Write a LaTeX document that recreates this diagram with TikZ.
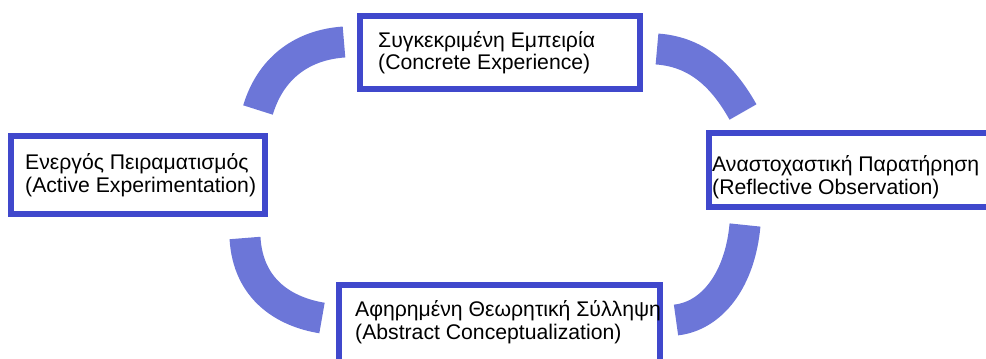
\documentclass[tikz,border=0pt]{standalone}
\usepackage{fontspec}
\setmainfont{Liberation Sans}
\definecolor{boxblue}{RGB}{64,72,204}
\definecolor{bandblue}{RGB}{108,118,216}
\begin{document}
\begin{tikzpicture}[x=1pt,y=-1pt,
  box/.style={draw=boxblue,line width=5.5pt,fill=white,rectangle,inner sep=0pt},
  lbl/.style={inner sep=0pt,anchor=base west,font=\fontsize{21.2}{23}\selectfont},
  band/.style={draw=bandblue,line width=31pt,line cap=butt}]
\useasboundingbox (0,0) rectangle (986,359);
\clip (0,0) rectangle (986,359);
% boxes
\node[box,minimum width=280pt,minimum height=73pt] (ce) at (500,52.5) {};
\node[box,minimum width=254pt,minimum height=78pt] (ae) at (138,175) {};
\node[box,minimum width=320pt,minimum height=74pt] (ro) at (869,170) {};
\node[box,minimum width=321pt,minimum height=90pt] (ac) at (499.5,330) {};
% labels
\node[lbl] (ce1) at (378,47) {Συγκεκριμένη Εμπειρία};
\node[lbl] (ce2) at (378,69) {(Concrete Experience)};
\node[lbl] (ae1) at (25,169) {Ενεργός Πειραματισμός};
\node[lbl] (ae2) at (25,192) {(Active Experimentation)};
\node[lbl] (ro1) at (712,171) {Αναστοχαστική Παρατήρηση};
\node[lbl] (ro2) at (712,194) {(Reflective Observation)};
\node[lbl] (ac1) at (355,316) {Αφηρημένη Θεωρητική Σύλληψη};
\node[lbl] (ac2) at (355,339) {(Abstract Conceptualization)};
% band ends
\coordinate (tl1) at (258,110);
\coordinate (tl2) at (344,42);
\coordinate (tr1) at (657,49);
\coordinate (tr2) at (743,112);
\coordinate (bl1) at (245,238);
\coordinate (bl2) at (322,318);
\coordinate (br1) at (745,225);
\coordinate (br2) at (676,320);
% bands
\draw[band] (tl1) .. controls (270,70) and (300,45) .. (tl2);
\draw[band] (tr1) .. controls (700,52) and (725,80) .. (tr2);
\draw[band] (bl1) .. controls (248,290) and (285,312) .. (bl2);
\draw[band] (br1) .. controls (740,280) and (712,316) .. (br2);
\end{tikzpicture}
\end{document}
